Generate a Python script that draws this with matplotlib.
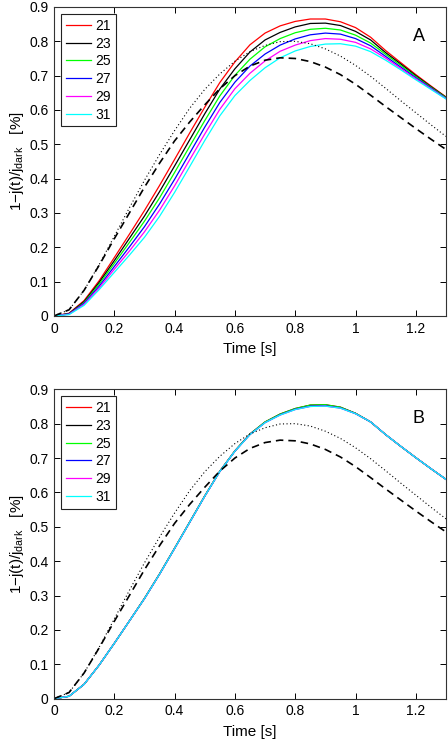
import numpy as np
import matplotlib
matplotlib.use('Agg')
import matplotlib.pyplot as plt
from matplotlib.ticker import FuncFormatter

plt.rcParams['font.family'] = ['Liberation Sans', 'DejaVu Sans']
plt.rcParams['mathtext.default'] = 'regular'

# time axis (s)
t = [0.00, 0.05, 0.10, 0.15, 0.20, 0.25, 0.30, 0.35, 0.40, 0.45, 0.50, 0.55, 0.60,
     0.65, 0.70, 0.75, 0.80, 0.85, 0.90, 0.95, 1.00, 1.05, 1.10, 1.15, 1.20, 1.25, 1.30]

labels = ['21', '23', '25', '27', '29', '31']
colors = ['#ff0000', '#000000', '#00ff00', '#0000ff', '#ff00ff', '#00ffff']

# reference curves (same in both panels)
dashed = [0.000, 0.018, 0.075, 0.148, 0.225, 0.300, 0.375, 0.445, 0.510, 0.565, 0.615, 0.662, 0.700,
          0.728, 0.745, 0.752, 0.750, 0.741, 0.725, 0.703, 0.675, 0.643, 0.610, 0.578, 0.546, 0.515, 0.485]
dotted = [0.000, 0.018, 0.075, 0.150, 0.232, 0.315, 0.395, 0.470, 0.540, 0.605, 0.660, 0.705, 0.742,
          0.770, 0.788, 0.799, 0.800, 0.793, 0.778, 0.757, 0.730, 0.698, 0.663, 0.627, 0.592, 0.557, 0.523]

# panel A
a21 = [0.000, 0.008, 0.045, 0.103, 0.170, 0.238, 0.307, 0.380, 0.456, 0.533, 0.608, 0.680, 0.740,
       0.790, 0.824, 0.845, 0.858, 0.865, 0.865, 0.857, 0.840, 0.812, 0.773, 0.738, 0.703, 0.670, 0.638]
a23 = [0.000, 0.007, 0.042, 0.098, 0.161, 0.226, 0.291, 0.362, 0.437, 0.513, 0.589, 0.661, 0.720,
       0.769, 0.804, 0.826, 0.842, 0.852, 0.853, 0.846, 0.829, 0.804, 0.767, 0.734, 0.700, 0.668, 0.637]
a25 = [0.000, 0.006, 0.039, 0.093, 0.153, 0.214, 0.276, 0.344, 0.418, 0.494, 0.569, 0.641, 0.701,
       0.748, 0.784, 0.808, 0.825, 0.835, 0.838, 0.833, 0.818, 0.795, 0.762, 0.730, 0.697, 0.666, 0.636]
a27 = [0.000, 0.006, 0.037, 0.087, 0.144, 0.201, 0.260, 0.326, 0.398, 0.474, 0.550, 0.622, 0.681,
       0.728, 0.763, 0.789, 0.807, 0.819, 0.824, 0.821, 0.808, 0.787, 0.756, 0.725, 0.694, 0.664, 0.634]
a29 = [0.000, 0.005, 0.034, 0.082, 0.136, 0.189, 0.245, 0.308, 0.379, 0.455, 0.530, 0.602, 0.662,
       0.707, 0.743, 0.771, 0.789, 0.802, 0.808, 0.806, 0.797, 0.778, 0.751, 0.721, 0.691, 0.662, 0.633]
a31 = [0.000, 0.004, 0.031, 0.077, 0.127, 0.177, 0.229, 0.290, 0.360, 0.435, 0.511, 0.583, 0.642,
       0.686, 0.723, 0.752, 0.772, 0.785, 0.792, 0.793, 0.786, 0.770, 0.745, 0.717, 0.688, 0.660, 0.632]

# panel B (curves almost on top of each other)
b21 = [0.000, 0.007, 0.042, 0.098, 0.161, 0.226, 0.292, 0.363, 0.438, 0.514, 0.590, 0.662, 0.721,
       0.770, 0.805, 0.828, 0.844, 0.854, 0.855, 0.848, 0.830, 0.805, 0.768, 0.734, 0.701, 0.669, 0.638]
b23 = [0.000, 0.007, 0.042, 0.098, 0.161, 0.226, 0.291, 0.362, 0.437, 0.513, 0.589, 0.661, 0.720,
       0.769, 0.804, 0.827, 0.843, 0.853, 0.854, 0.847, 0.830, 0.805, 0.768, 0.734, 0.701, 0.669, 0.638]
b25 = [0.000, 0.007, 0.042, 0.098, 0.161, 0.226, 0.292, 0.363, 0.438, 0.514, 0.590, 0.662, 0.721,
       0.770, 0.805, 0.828, 0.844, 0.854, 0.855, 0.848, 0.830, 0.805, 0.768, 0.734, 0.701, 0.669, 0.638]
b27 = [0.000, 0.007, 0.042, 0.098, 0.161, 0.226, 0.291, 0.362, 0.437, 0.513, 0.589, 0.661, 0.720,
       0.769, 0.803, 0.826, 0.842, 0.851, 0.852, 0.846, 0.829, 0.805, 0.768, 0.734, 0.701, 0.669, 0.638]
b29 = [0.000, 0.007, 0.042, 0.098, 0.161, 0.226, 0.291, 0.362, 0.437, 0.513, 0.589, 0.661, 0.720,
       0.768, 0.803, 0.825, 0.841, 0.850, 0.851, 0.845, 0.829, 0.805, 0.768, 0.734, 0.701, 0.669, 0.638]
b31 = [0.000, 0.007, 0.042, 0.098, 0.161, 0.226, 0.291, 0.362, 0.437, 0.513, 0.589, 0.661, 0.720,
       0.768, 0.803, 0.825, 0.841, 0.850, 0.851, 0.845, 0.829, 0.805, 0.768, 0.734, 0.701, 0.669, 0.638]

panels = [('A', [a21, a23, a25, a27, a29, a31]),
          ('B', [b21, b23, b25, b27, b29, b31])]

fig = plt.figure(figsize=(4.48, 7.44), dpi=100)
rects = [[0.1205, 0.5753, 0.875, 0.4153], [0.1205, 0.0609, 0.875, 0.4159]]

fmt = FuncFormatter(lambda v, p: '%g' % round(v, 2))

for rect, (tag, series) in zip(rects, panels):
    ax = fig.add_axes(rect)
    for y, lab, c in zip(series, labels, colors):
        ax.plot(t, y, color=c, lw=0.9, label=lab)
    ax.plot(t, dotted, color='k', lw=0.8, linestyle=(0, (1, 2.2)))
    ax.plot(t, dashed, color='k', lw=1.2, linestyle=(0, (4.5, 3)))

    ax.set_xlim(0, 1.3)
    ax.set_ylim(0, 0.9)
    ax.set_xticks([0, 0.2, 0.4, 0.6, 0.8, 1.0, 1.2])
    ax.set_yticks(np.arange(0, 0.91, 0.1))
    ax.xaxis.set_major_formatter(fmt)
    ax.yaxis.set_major_formatter(fmt)
    ax.tick_params(direction='in', top=True, right=True, length=4, width=0.7,
                   labelsize=10, pad=4)
    for s in ax.spines.values():
        s.set_linewidth(0.8)
        s.set_color('#333333')
    ax.set_xlabel('Time [s]', fontsize=11, labelpad=5)
    ax.set_ylabel('1$-$j(t)/j$_{dark}$   [%]', fontsize=11, labelpad=2)
    ax.text(0.93, 0.905, tag, transform=ax.transAxes, fontsize=13, ha='center', va='center')

    leg = ax.legend(loc='upper left', fontsize=10, handlelength=1.85, handletextpad=0.3,
                    labelspacing=0.27, borderpad=0.35, borderaxespad=0.5, fancybox=False,
                    framealpha=1)
    leg.get_frame().set_edgecolor('#222222')
    leg.get_frame().set_linewidth(0.8)

fig.savefig('out.png', dpi=100)
